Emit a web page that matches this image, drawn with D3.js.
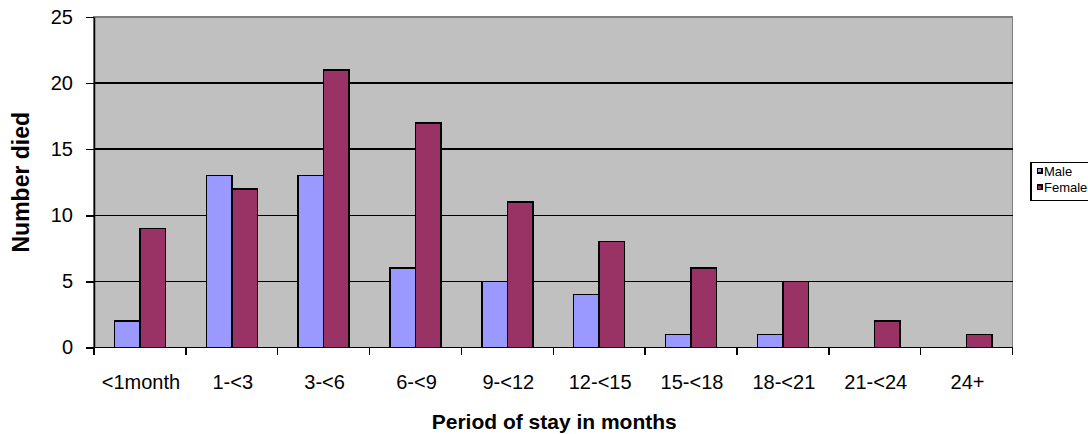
<!DOCTYPE html>
<html>
<head>
<meta charset="utf-8">
<script src="https://cdn.jsdelivr.net/npm/d3@7"></script>
<style>
  html, body { margin: 0; padding: 0; background: #fff; }
  svg { display: block; font-family: "Liberation Sans", Arial, sans-serif; }
  line, rect { shape-rendering: crispEdges; }
</style>
</head>
<body>
<svg id="chart" width="1088" height="434"></svg>
<script>
// Deaths by length of stay, split by sex
const categories = ["<1month", "1-<3", "3-<6", "6-<9", "9-<12", "12-<15", "15-<18", "18-<21", "21-<24", "24+"];
const seriesNames = ["Male", "Female"];
const maleValues = [2, 13, 13, 6, 5, 4, 1, 1, 0, 0];
const femaleValues = [9, 12, 21, 17, 11, 8, 6, 5, 2, 1];
const yTicks = [0, 5, 10, 15, 20, 25];

const colors = { Male: "#9999FF", Female: "#993366" };
const seriesValues = { Male: maleValues, Female: femaleValues };

const svg = d3.select("#chart");
const plot = { left: 94, right: 1012.5, top: 17, bottom: 347.5 };

const x0 = d3.scaleBand().domain(categories).range([plot.left, plot.right]).paddingInner(0).paddingOuter(0);
const x1 = d3.scaleBand().domain(seriesNames).range([0, x0.bandwidth()]).paddingInner(0).paddingOuter(0.8);
const y = d3.scaleLinear().domain([0, 25]).range([plot.bottom, plot.top]);

// plot background
svg.append("rect")
  .attr("x", plot.left).attr("y", plot.top)
  .attr("width", plot.right - plot.left).attr("height", plot.bottom - plot.top)
  .attr("fill", "#C0C0C0")
  .attr("stroke", "#808080").attr("stroke-width", 1.5);

// horizontal gridlines
svg.append("g").selectAll("line")
  .data(yTicks.filter(t => t > 0 && t < 25))
  .join("line")
  .attr("x1", plot.left).attr("x2", plot.right)
  .attr("y1", d => y(d)).attr("y2", d => y(d))
  .attr("stroke", "#000").attr("stroke-width", 1.5);

// bars
const rows = categories.map((c, i) => ({ cat: c, vals: seriesNames.map(s => ({ s, v: seriesValues[s][i] })) }));
svg.append("g").selectAll("g")
  .data(rows)
  .join("g")
  .attr("transform", d => `translate(${x0(d.cat)},0)`)
  .selectAll("rect")
  .data(d => d.vals.filter(e => e.v > 0))
  .join("rect")
  .attr("x", d => x1(d.s))
  .attr("width", x1.bandwidth())
  .attr("y", d => y(d.v))
  .attr("height", d => y(0) - y(d.v))
  .attr("fill", d => colors[d.s])
  .attr("stroke", "#000").attr("stroke-width", 1.5);

// y axis
const yAxis = svg.append("g")
  .attr("transform", `translate(${plot.left},0)`)
  .call(d3.axisLeft(y).tickValues(yTicks).tickSize(8).tickPadding(13).tickSizeOuter(0));
yAxis.select(".domain").attr("stroke", "#000").attr("stroke-width", 1.5);
yAxis.selectAll(".tick line").attr("stroke", "#000").attr("stroke-width", 1.5);
yAxis.selectAll(".tick text").attr("font-size", 20).attr("fill", "#000")
  .attr("font-family", "Liberation Sans, Arial, sans-serif");

// x axis with ticks at category boundaries
const xAxisG = svg.append("g").attr("transform", `translate(0,${plot.bottom})`);
xAxisG.append("line")
  .attr("x1", plot.left).attr("x2", plot.right)
  .attr("stroke", "#000").attr("stroke-width", 1.5);
const boundaries = categories.map(c => x0(c)).concat([plot.right]);
xAxisG.selectAll("line.tk")
  .data(boundaries)
  .join("line").attr("class", "tk")
  .attr("x1", d => d).attr("x2", d => d)
  .attr("y1", 0).attr("y2", 7)
  .attr("stroke", "#000").attr("stroke-width", 1.5);
xAxisG.selectAll("text")
  .data(categories)
  .join("text")
  .attr("x", d => x0(d) + x0.bandwidth() / 2 + 1)
  .attr("y", 41)
  .attr("text-anchor", "middle")
  .attr("font-size", 20)
  .text(d => d);

// axis titles
svg.append("text")
  .attr("x", (plot.left + plot.right) / 2 + 1)
  .attr("y", 429)
  .attr("text-anchor", "middle")
  .attr("font-size", 21)
  .attr("font-weight", "bold")
  .text("Period of stay in months");

svg.append("text")
  .attr("transform", `translate(28.5,${(plot.top + plot.bottom) / 2}) rotate(-90)`)
  .attr("text-anchor", "middle")
  .attr("font-size", 23)
  .attr("font-weight", "bold")
  .text("Number died");

// legend
const legend = svg.append("g");
legend.append("rect")
  .attr("x", 1031).attr("y", 162.5)
  .attr("width", 70).attr("height", 38)
  .attr("fill", "#fff").attr("stroke", "#000").attr("stroke-width", 1.5);
const li = legend.selectAll("g.item")
  .data(seriesNames)
  .join("g").attr("class", "item")
  .attr("transform", (d, i) => `translate(1037.5,${168.5 + i * 16.7})`);
li.append("rect")
  .attr("width", 4.5).attr("height", 4.5)
  .attr("fill", d => colors[d]).attr("stroke", "#000").attr("stroke-width", 1.5);
li.append("text")
  .attr("x", 6.5).attr("y", 7)
  .attr("font-size", 13)
  .text(d => d);
</script>
</body>
</html>
